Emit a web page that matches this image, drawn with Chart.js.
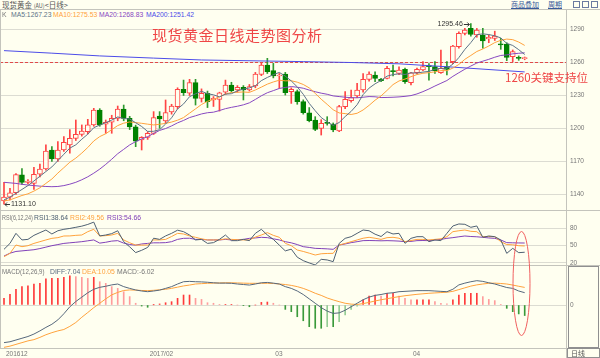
<!DOCTYPE html>
<html><head><meta charset="utf-8">
<script src="https://cdn.jsdelivr.net/npm/chart.js@4.4.1/dist/chart.umd.min.js"></script>
<style>
html,body{margin:0;padding:0;background:#fffff0;}
#wrap{position:relative;width:600px;height:358px;overflow:hidden;background:#fffff0;font-family:"Liberation Sans","DejaVu Sans",sans-serif;}
#wrap canvas{position:absolute;left:0;}
.t{position:absolute;white-space:nowrap;line-height:1;}
.cjk{font-family:"Noto Sans CJK SC",sans-serif;}
.hl{position:absolute;left:0;width:600px;height:1px;background:#c4c4bc;}
.vl{position:absolute;width:1px;background:#c4c4bc;}
.lnk{color:#3a5a9a;text-decoration:underline;font-size:7px;}
.box{position:absolute;border:1px solid #909090;box-sizing:border-box;}
</style></head><body>
<div id="wrap">
<canvas id="cMain" width="600" height="190" style="top:20px"></canvas>
<canvas id="cRsi" width="600" height="55" style="top:210px"></canvas>
<canvas id="cMacd" width="600" height="83" style="top:265px"></canvas>

<div class="hl" style="top:9px"></div>
<div class="hl" style="top:210px"></div>
<div class="hl" style="top:265px"></div>
<div class="hl" style="top:348px"></div>
<div class="vl" style="left:566px;top:10px;height:348px"></div>
<div class="vl" style="left:0px;top:10px;height:338px"></div>
<div class="box" style="left:568px;top:266px;width:31px;height:82px"></div>
<div class="box" style="left:567px;top:348px;width:33px;height:10px"></div>

<div class="t cjk" style="left:2px;top:1px;font-size:7.5px;color:#555">现货黄金 <span style="font-size:5.5px">(AU)</span>&lt;日线&gt;</div>
<div class="t cjk lnk" style="left:511px;top:1px">商品叠加</div>
<div class="t cjk lnk" style="left:548px;top:1px">周期</div>
<div class="box" style="left:573px;top:1px;width:7px;height:7px;border-color:#6a7aa0"></div>
<div class="box" style="left:582px;top:1px;width:7px;height:7px;border-color:#6a7aa0"></div>
<div class="box" style="left:591px;top:1px;width:7px;height:7px;border-color:#6a7aa0"></div>

<div id="legMain"></div>
<div id="legRsi"></div>
<div id="legMacd"></div>
<div id="dates"></div>
<div class="t cjk" style="left:571px;top:349.5px;font-size:7px;color:#555">日线</div>

<div class="t cjk" style="left:152px;top:27px;font-size:15px;letter-spacing:0.5px;color:#ef4646">现货黄金日线走势图分析</div>
<div class="t cjk" style="left:505px;top:71.5px;font-size:11.5px;color:#ef4646">1260关键支持位</div>

<svg style="position:absolute;left:0;top:0" width="600" height="358">
<ellipse cx="521.5" cy="283.5" rx="8.5" ry="52" fill="none" stroke="#f06060" stroke-width="1"/>
</svg>
</div>

<script>
// ---------------- DATA ----------------
const open = [
1134,1137.5,1141.5,1157.7,1151,1150,1158.3,1163.1,1180.4,1172.2,
1180.4,1185,1191,1194.6,1197,1203.2,1216.8,1203.8,1205.6,1209.2,
1217.7,1209.2,1201.5,1189.5,1191.9,1195.5,1211.3,1206.8,1215,1219.8,
1235.6,1232,1241.7,1227.4,1232,1225.9,1226.5,1232.9,1239.5,1235,
1237.4,1235,1238.6,1249.2,1257.7,1252.6,1247.7,1249.5,1233.5,1233.5,
1224.4,1214.3,1207.7,1200.1,1205.2,1204,1197.7,1219.8,1225.3,1229.5,
1235,1244.7,1248.6,1244.7,1245.6,1252.6,1250.1,1253.8,1241.6,1250.7,
1253.2,1257.1,1256.2,1250.7,1256.2,1260.8,1274.4,1286.5,1291,1285,
1285,1281.4,1282,1276.8,1276.8,1265.3,1264.5,1263.5];
const high = [
1151,1145.5,1159,1163.4,1153.5,1164.6,1167.6,1185,1183.4,1188,
1192.5,1199,1207.7,1203.2,1208.3,1218.3,1218,1207.7,1212,1220.4,
1221.3,1211,1203,1192.5,1197,1215.3,1215.3,1225.9,1222,1237,
1244,1244.7,1244.7,1236,1234,1229,1233,1244,1242,1239,
1239,1240,1251,1259.8,1263.8,1259.2,1250,1251,1237,1235,
1226,1219,1210.7,1208,1210.7,1205,1221,1233.5,1235,1241,
1250,1251.5,1251.5,1245.6,1256.5,1257.7,1256,1255,1251,1255,
1260.8,1259,1260.8,1271.4,1260.8,1275.6,1288,1291,1295.46,1291,
1291.1,1285,1288.5,1282,1278,1271.4,1266,1265];
const low = [
1131.1,1135,1140,1149,1149.5,1144.6,1156,1162,1170,1170,
1179,1177.4,1189,1193,1195,1202,1202,1195.6,1195.6,1207,
1207,1199,1183.4,1180.4,1190,1194.5,1200.1,1205,1213,1218,
1230,1230,1221.3,1224,1219,1220,1215.8,1231,1233,1233,
1225.9,1234,1237,1248,1250,1246,1236.5,1230.4,1222.8,1222,
1213,1206,1198,1194,1203,1197,1197,1218,1224,1228,
1233,1243,1242.5,1242.5,1245,1247.7,1249,1241,1239.5,1249.5,
1252.5,1244,1250,1250,1248.6,1259,1273,1285,1284,1283,
1273,1278,1280,1272,1261.7,1260.8,1262,1262.5];
const close = [
1137.5,1141.5,1158,1151,1152,1158.3,1163.1,1179.5,1172.2,1180.4,
1187.4,1191,1194.6,1197.7,1203.2,1216.8,1203.2,1205.6,1209.2,1217.7,
1209.2,1201.5,1188.5,1191.9,1195.5,1209.8,1208.6,1214.4,1220.4,1235.6,
1232.5,1241.7,1227.4,1232,1224.4,1227.4,1232.5,1239.5,1234.4,1237.4,
1235,1238,1249.5,1257.7,1251.7,1247.7,1248.6,1232.5,1235.6,1224.4,
1214.3,1207.1,1199.2,1204.6,1204.6,1198.6,1219.8,1226.5,1228,1235,
1244.7,1249.5,1245.6,1243.5,1254.7,1251.7,1253.2,1242.6,1250.7,1253.8,
1256.2,1256.2,1252.6,1254.7,1253.8,1275,1286.5,1289.5,1285.5,1289.6,
1279.6,1282.9,1284,1276,1264.7,1269.9,1263.8,1264];

const ma5 = [
1135,1137.5,1141,1144.5,1148,1152.2,1156.5,1160.8,1165,1170.7,
1176.5,1182.1,1185.1,1190.2,1194.8,1200.7,1203.1,1205.3,1207.6,1210.5,
1209,1208.6,1205.2,1201.8,1197.3,1197.4,1198.9,1204,1209.7,1217.8,
1222.3,1228.9,1231.5,1233.8,1231.6,1230.6,1228.7,1231.2,1231.6,1234.2,
1235.8,1236.9,1238.9,1243.5,1246.4,1248.9,1251,1247.6,1243.2,1237.8,
1231.1,1222.8,1216.1,1209.9,1206,1202.8,1205.4,1210.8,1215.5,1221.6,
1230.8,1236.7,1240.6,1243.7,1247.6,1249,1249.7,1249.1,1250.6,1250.4,
1251.3,1251.9,1253.9,1254.7,1254.7,1258.5,1264.5,1271.9,1278.1,1285.2,
1286.1,1285.4,1284.3,1282.4,1277.4,1275.5,1271.7,1267.23];
const ma10 = [
1134,1135,1137,1139,1140.5,1143,1146,1150,1154,1159.4,
1164.3,1169.3,1173,1177.6,1182.7,1188.6,1192.6,1195.2,1198.9,1202.6,
1204.8,1205.9,1205.3,1204.7,1203.9,1203.2,1203.8,1204.6,1205.8,1207.5,
1209.9,1213.9,1217.8,1221.8,1224.7,1226.4,1228.8,1231.3,1232.7,1232.9,
1233.2,1232.8,1235,1237.6,1240.3,1242.3,1243.9,1243.3,1243.4,1242.1,
1240,1236.9,1231.9,1226.6,1221.9,1217,1214.1,1213.5,1212.7,1213.8,
1216.8,1221,1225.7,1229.6,1234.6,1239.9,1243.2,1244.9,1247.1,1249,
1250.2,1250.8,1251.5,1252.6,1252.6,1254.9,1258.2,1262.9,1266.4,1270,
1272.3,1275,1278.1,1280.2,1281.3,1280.8,1278.6,1275.53];
const ma20 = [
1151,1150.5,1150,1149.2,1148.5,1148,1147.5,1147.2,1147,1147.2,
1148,1149.3,1151,1153.3,1156,1159.3,1163,1167.3,1172,1177,
1181,1185,1188,1190.5,1192.5,1195.5,1198.2,1199.9,1202.3,1205.1,
1207.3,1209.9,1211.5,1213.2,1214.3,1214.8,1216.3,1218,1219.2,1220.2,
1221.5,1223.3,1226.4,1229.7,1232.5,1234.4,1236.4,1237.3,1238.1,1237.5,
1236.6,1234.9,1233.4,1232.1,1231.1,1229.6,1229,1228.4,1228,1227.9,
1228.4,1229,1228.8,1228.1,1228.2,1228.4,1228.7,1229.2,1229.9,1231.4,
1233.5,1235.9,1238.6,1241.1,1243.6,1247.4,1250.7,1253.9,1256.8,1259.5,
1261.2,1262.9,1264.8,1266.4,1266.9,1267.9,1268.4,1268.83];
const ma200Idx = [0, 8, 16, 25, 33, 50, 58, 66, 75, 87];
const ma200Val = [1270.8, 1268.5, 1266, 1264, 1262.3, 1260.8, 1260, 1258.8, 1255.8, 1251.42];

const rsi1 = [
43.7,54,71.5,60,61,68,72.7,77.3,70.4,76,
78.5,80,82,84,87,91,67,68.6,71,76,
57,48,38,42,47,63,61,67,71.5,77,
74.4,68.6,60,61,54,55.3,61,68.6,58.8,58.8,
61,58.8,71.5,78.5,68.6,61,51,41,44,30,
24,20,16.5,26.3,25.2,22.3,54,62.8,65.7,71.5,
77.3,76,70,66,74.4,70.4,71.5,54.1,62.8,65.7,
65.7,57,60,58.8,71.5,84.3,87.8,87.2,82,84.3,
64.6,66.9,65.7,60,36.7,45.4,37.9,38.64];
const rsi2 = [
30.9,36.7,51.2,48.3,50,54,57,60,62.8,64,
66.9,67,68,68.6,74.4,78.5,66.9,67.5,68.6,71.5,
60,55,51.2,51,51.2,60,60,61,66,71.5,
70.4,67,64.6,62,60,60,60,62,61,60.5,
60,60,65,68.6,72.7,68,64.6,54.1,50,42.5,
40,37,33.8,36,36.5,36.7,51.2,54,57,60,
63,64.6,63,61,64,64.6,63,57,59,61,
61,60,61,62,65.7,74.4,76,77.3,75,74.4,
65.7,66,65.7,57,52,51.5,50,49.56];
const rsi3 = [
32,37,40,41,42,43,45,47.5,50,52,
54,55,56,57,58.5,60,54.5,56,58,58.8,
54.5,52,51,53,54,55,55,55.3,57,61,
62.8,63,61,61,60,60,60,61,60,60.5,
61,62.8,63.5,64.6,64,62,60,57,55,52,
48.3,47,45.4,45,44.5,43.7,51.2,53,55.3,57,
58.8,59,58.8,58.5,58.8,58.5,58,57,57.5,58.8,
59,58.8,60,61,62.8,64,65.5,66.9,66,65.5,
64.6,63.5,62.8,60,55.3,55,54.8,54.66];

const macdHist = [
3.8,6.1,9,10.5,10.9,12,12.4,14.9,15.2,15.2,
15.8,16.6,16.2,15.8,15.2,15.8,13.3,12.4,10.5,9.5,
7.6,4.8,1,-0.6,-1.3,0.1,0.6,1.3,1.9,3.8,
5.7,5.7,3.8,3.2,1.3,1,0.4,0.4,0.4,0,
-0.4,-1,0,1.5,1.7,1,0,-2.5,-3.8,-6.7,
-9,-12.4,-13.3,-13.3,-12.4,-12.4,-9.5,-5.7,-2.5,-0.6,
2.9,5.1,5.7,5.1,6.7,6.7,5.1,3.8,2.9,2.9,
2.9,2.9,1.9,1,0.6,2.9,5.7,6.7,6.7,6.7,
4.8,3.2,2.5,0.4,-1.9,-3.8,-5.1,-6.02];
const diff = [
-21.5,-21,-20,-19,-18,-16.6,-14.8,-12.8,-11,-8.5,
-5,-1,2,4.5,7,9,10.1,10.7,11.5,12,
10.5,9.5,8.6,8,7.6,8,8.5,9.5,10.5,12,
13.3,13.5,13.3,13.2,13,12.7,12.5,12.5,12.4,12,
11.7,11.4,12,12.7,12.9,12.5,12,10.5,9.5,8,
6,3.5,1,-1.5,-3.5,-4.8,-4.5,-3,-1,1,
3,4.5,5.5,6,6.7,7,7.6,7.8,8,8.2,
8.2,8.2,8,7.8,7.6,9,11.5,12.5,13.3,13.9,
13.5,12.7,12,11,10,9.5,8,7.04];
const dea = [
-24.2,-23.5,-22.5,-21.5,-20.5,-19.8,-18.5,-17,-15.8,-14.8,
-14,-12.2,-10,-7,-4.3,-1.5,1,3.5,5.8,7.2,
8.3,8.6,8.5,8.3,8.2,8.4,8.7,9,9.5,10.2,
10.9,11.4,12,12.2,12.4,12.5,12.6,12.7,12.7,12.6,
12.5,12.4,12.4,12.4,12.4,12.3,12,11.7,11.2,10.5,
9.5,8.2,6.7,5.5,4,2.9,1.9,1,0.5,0.3,
0.8,1.5,2.3,3,3.6,4.2,4.8,5.3,5.7,6.1,
6.4,6.7,6.9,7.1,7.3,7.8,8.8,9.8,10.8,11.5,
12,12.4,12.5,12.3,12,11.4,10.7,10.05];

const priceTicks = [1140, 1170, 1200, 1230, 1260, 1290];
const rsiTicks = [20, 50, 80];
const macdTicks = [0];
const supportLevel = 1260;
const hiIdx = 78, hiVal = 1295.46;
const loIdx = 0, loVal = 1131.10;
const monthIdx = [0, 24, 45, 68];
const monthLbl = ['201612', '2017/02', '03', '04'];
const legendMain = [['K',''],['MA5:1267.23','ma5'],['MA10:1275.53','ma10'],['MA20:1268.83','ma20'],['MA200:1251.42','ma200']];
const legendRsi = [['RSI(6,12,24)',''],['RSI1:38.64','r1'],['RSI2:49.56','r2'],['RSI3:54.66','r3']];
const legendMacd = [['MACD(12,26,9)',''],['DIFF:7.04','diff'],['DEA:10.05','dea'],['MACD:-6.02','']];

// ---------------- STYLE ----------------
const BG = '#fffff0', UP = '#ff4444', DN = '#008200', DNW = '#2f9a2f';
const COL = {ma5:'#5d7387', ma10:'#ffa23c', ma20:'#8748c0', ma200:'#4c4ce8', r1:'#4e6072', r2:'#ffa23c', r3:'#8040b8', diff:'#56687c', dea:'#ffa23c', '':'#777'};
const GRID = '#dcdcd2';
const X_MIN = -0.668, X_MAX = 93.9;

const axisLabels = {
  id: 'axisLabels',
  afterDraw(chart, args, o) {
    if (!o || !o.show) return;
    const s = chart.scales.y, ctx = chart.ctx;
    ctx.save();
    ctx.font = '6.5px "Liberation Sans"'; ctx.fillStyle = '#777';
    ctx.textBaseline = 'middle'; ctx.textAlign = 'left';
    s.ticks.forEach(t => ctx.fillText(String(t.value), chart.chartArea.right + 4, s.getPixelForValue(t.value)));
    ctx.restore();
  }
};
const priceMarks = {
  id: 'priceMarks',
  afterDatasetsDraw(chart, args, o) {
    if (!o || !o.show) return;
    const xs = chart.scales.x, ys = chart.scales.y, ctx = chart.ctx;
    ctx.save();
    ctx.font = '7px "Liberation Sans"'; ctx.fillStyle = '#333'; ctx.strokeStyle = '#333'; ctx.lineWidth = 1;
    ctx.textBaseline = 'middle';
    let hx = xs.getPixelForValue(hiIdx), hy = Math.round(ys.getPixelForValue(hiVal)) + 0.5;
    ctx.textAlign = 'right'; ctx.fillText(hiVal.toFixed(2), hx - 8, hy);
    ctx.beginPath(); ctx.moveTo(hx - 7, hy); ctx.lineTo(hx - 1.5, hy);
    ctx.moveTo(hx - 3.5, hy - 2); ctx.lineTo(hx - 1.5, hy); ctx.lineTo(hx - 3.5, hy + 2); ctx.stroke();
    let lx = xs.getPixelForValue(loIdx), ly = Math.round(ys.getPixelForValue(loVal)) + 0.5;
    ctx.textAlign = 'left'; ctx.fillText(loVal.toFixed(2), lx + 7, ly);
    ctx.beginPath(); ctx.moveTo(lx + 6, ly); ctx.lineTo(lx + 1, ly);
    ctx.moveTo(lx + 3, ly - 2); ctx.lineTo(lx + 1, ly); ctx.lineTo(lx + 3, ly + 2); ctx.stroke();
    ctx.restore();
  }
};
Chart.register(axisLabels, priceMarks);

function baseOptions(min, max, ticks, extraPlugins) {
  return {
    responsive: false, animation: false, devicePixelRatio: 1, events: [],
    layout: { padding: 0 },
    plugins: Object.assign({ legend: { display: false }, tooltip: { enabled: false }, axisLabels: { show: true } }, extraPlugins || {}),
    scales: {
      x: { type: 'linear', min: X_MIN, max: X_MAX, offset: false, display: false, grid: { offset: false } },
      y: {
        position: 'right', min: min, max: max,
        afterBuildTicks: s => { s.ticks = ticks.map(v => ({ value: v })); },
        afterFit: s => { s.width = 34; },
        ticks: { display: false },
        grid: { color: GRID, drawTicks: false, lineWidth: 1 },
        border: { display: false }
      }
    }
  };
}
const pts = arr => arr.map((v, i) => ({ x: i, y: v }));
const line = (arr, color, order) => ({ type: 'line', data: arr, borderColor: color, borderWidth: 1, pointRadius: 0, tension: 0, order: order || 0 });

// ---------------- MAIN ----------------
const isUp = close.map((c, i) => c >= open[i]);
const mainChart = new Chart(document.getElementById('cMain'), {
  type: 'bar',
  data: { datasets: [
    line(pts(ma5), COL.ma5),
    line(pts(ma10), COL.ma10),
    line(pts(ma20), COL.ma20),
    line(ma200Idx.map((x, k) => ({ x: x, y: ma200Val[k] })), COL.ma200),
    { type: 'bar', data: close.map((c, i) => ({ x: i, y: [open[i], c] })),
      backgroundColor: isUp.map(u => u ? BG : DN), borderColor: isUp.map(u => u ? UP : DN),
      borderWidth: 1, borderSkipped: false, barThickness: 5, grouped: false, minBarLength: 1, order: 1 },
    { type: 'bar', data: close.map((c, i) => ({ x: i, y: [low[i], high[i]] })),
      backgroundColor: isUp.map(u => u ? UP : DNW), barThickness: 1, grouped: false, order: 2 },
    { type: 'line', data: [{ x: X_MIN, y: supportLevel }, { x: X_MAX, y: supportLevel }],
      borderColor: '#e04a4a', borderDash: [3, 2], borderWidth: 1, pointRadius: 0, order: 3 }
  ]},
  options: baseOptions(1125.8, 1298.67, priceTicks, { priceMarks: { show: true } })
});

// ---------------- RSI ----------------
new Chart(document.getElementById('cRsi'), {
  type: 'line',
  data: { datasets: [ line(pts(rsi1), COL.r1), line(pts(rsi2), COL.r2), line(pts(rsi3), COL.r3) ] },
  options: baseOptions(16.44, 112.09, rsiTicks)
});

// ---------------- MACD ----------------
const histCol = macdHist.map((h, i) => {
  const p = i > 0 ? macdHist[i - 1] : 0;
  if (h >= 0) return h >= p ? '#ff3a3a' : '#ff9c9c';
  return h <= p ? '#3a9a3a' : '#94cc94';
});
const macdChart = new Chart(document.getElementById('cMacd'), {
  type: 'bar',
  data: { datasets: [
    line(pts(diff), COL.diff),
    line(pts(dea), COL.dea),
    { type: 'bar', data: pts(macdHist), backgroundColor: histCol, barThickness: 1, grouped: false, order: 2 }
  ]},
  options: baseOptions(-24.57, 22.857, macdTicks)
});

// ---------------- TEXT ----------------
function legend(id, items, top, lefts, size, squeeze) {
  const el = document.getElementById(id);
  items.forEach((it, k) => {
    const d = document.createElement('div');
    d.className = 't'; d.textContent = it[0];
    d.style.left = lefts[k] + 'px'; d.style.top = top + 'px';
    d.style.fontSize = size + 'px'; d.style.color = COL[it[1]];
    if (k === 0 && squeeze) { d.style.transform = 'scaleX(' + squeeze + ')'; d.style.transformOrigin = '0 0'; }
    el.appendChild(d);
  });
}
legend('legMain', legendMain, 12, [2, 11, 53, 99, 146], 6.8);
legend('legRsi', legendRsi, 214.5, [2, 34, 70, 107], 6.8, 0.8);
legend('legMacd', legendMacd, 269, [2, 50, 82, 117], 6.8, 0.9);

const xs = macdChart.scales.x, dEl = document.getElementById('dates');
monthIdx.forEach((mi, k) => {
  const d = document.createElement('div');
  d.className = 't'; d.textContent = monthLbl[k];
  d.style.left = Math.max(2, xs.getPixelForValue(mi) + 2) + 'px';
  d.style.top = '350.5px'; d.style.fontSize = '6.5px'; d.style.color = '#777';
  dEl.appendChild(d);
});
</script>
</body></html>
